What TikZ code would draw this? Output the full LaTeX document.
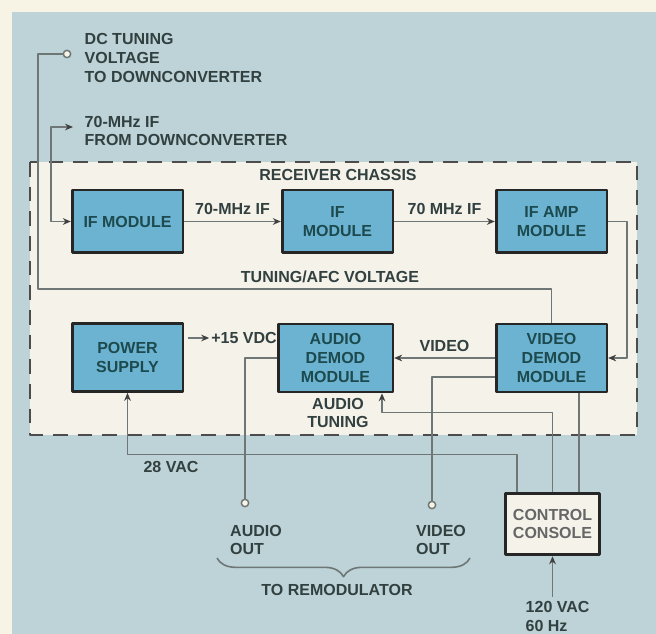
\documentclass[tikz,border=0pt]{standalone}
\usepackage{fontspec}
\setmainfont{Liberation Sans}
\usetikzlibrary{positioning,decorations.pathreplacing,arrows.meta}
\definecolor{cream}{RGB}{247,243,229}
\definecolor{panel}{RGB}{189,211,216}
\definecolor{chassisfill}{RGB}{244,242,233}
\definecolor{modfill}{RGB}{108,179,209}
\definecolor{wirecol}{RGB}{110,118,118}
\definecolor{ink}{RGB}{50,64,64}
\definecolor{modink}{RGB}{28,74,78}
\begin{document}
\begin{tikzpicture}[x=0.75pt,y=-0.75pt,>={Stealth[length=6pt,width=5pt,color=black!75]},line join=round,
	every node/.style={font=\fontsize{12}{14}\selectfont\bfseries,text=ink,align=center},
	module/.style={draw=black!85,line width=2pt,fill=modfill,text=modink,minimum width=83pt,minimum height=47pt,inner sep=2pt},
	wire/.style={draw=wirecol,line width=1.2pt},
	jack/.style={circle,draw=wirecol,line width=1.1pt,fill=cream,inner sep=0pt,minimum size=5.5pt}]
	\useasboundingbox (0,0) rectangle (656,634);
	\fill[cream] (0,0) rectangle (656,634);
	\fill[panel] (12,12) rectangle (656,634);
	\draw[draw=black!70,fill=chassisfill,line width=2.2pt,dash pattern=on 11pt off 7.5pt] (30,162) rectangle (637,435);
	\node (chassis) at (338,175) {RECEIVER CHASSIS};
	\node[module] (ifa) at (127.5,221.5) {IF MODULE};
	\node[module] (ifb) at (337.5,221.5) {IF\\MODULE};
	\node[module] (ifamp) at (551.5,221.5) {IF AMP\\MODULE};
	\node[module,minimum height=51pt] (power) at (127.5,357.5) {POWER\\SUPPLY};
	\node[module,minimum width=86pt,minimum height=51pt] (audio) at (335.5,358) {AUDIO\\DEMOD\\MODULE};
	\node[module,minimum height=51pt] (video) at (551.5,358) {VIDEO\\DEMOD\\MODULE};
	\node[draw=black!85,line width=2.4pt,fill=chassisfill,text=black!60,minimum width=71pt,minimum height=46pt] (console) at (552.5,524) {CONTROL\\CONSOLE};
	\node[jack] (dcjack) at (67,54) {};
	\node[align=left,anchor=west] (dclabel) at (80,58) {DC TUNING\\VOLTAGE\\TO DOWNCONVERTER};
	\coordinate (ifin) at (73,127);
	\node[align=left,anchor=west] (iflabel) at (80,131) {70-MHz IF\\FROM DOWNCONVERTER};
	\node (afc) at (330,277) {TUNING/AFC VOLTAGE};
	\node (tuning) at (338,413) {AUDIO\\TUNING};
	\node (vac28) at (171,467) {28 VAC};
	\node[jack] (aojack) at (245,503) {};
	\node[jack] (vojack) at (432,505) {};
	\node[align=left] (aolabel) at (256,540) {AUDIO\\OUT};
	\node[align=left] (volabel) at (441,540) {VIDEO\\OUT};
	\node (remod) at (337,590) {TO REMODULATOR};
	\node[align=left,anchor=north west] (mains) at (521,597) {120 VAC\\60 Hz};
	\draw[wire] (dcjack.west) -- (38,54) -- (38,289) -| (video.north);
	\draw[wire,<->] (ifin) -| (51,221.5) -- (ifa.west);
	\draw[wire,->] (ifa) -- node[above=1pt] {70-MHz IF} (ifb);
	\draw[wire,->] (ifb) -- node[above=1pt] {70 MHz IF} (ifamp);
	\draw[wire,->] (ifamp.east) -- (627,221.5) |- (video.east);
	\draw[wire,->] (video.west) -- node[above=1pt] {VIDEO} (audio.east);
	\draw[wire,->] ([shift={(4,-19.5)}]power.east) -- ++(21,0) node[right,inner sep=1pt] (vdc) {+15 VDC};
	\draw[wire] (audio.west) -| (aojack.north);
	\draw[wire] ([shift={(0,19)}]video.west) -| (vojack.north);
	\draw[wire,<-] ([shift={(46.5,0)}]audio.south) -- ++(0,19) -| (console.north);
	\draw[wire] ([shift={(27.5,0)}]video.south) -- ([shift={(27.5,0)}]video.south |- console.north);
	\draw[wire,<-] (power.south) -- ++(0,61.5) -| ([shift={(-35.5,0)}]console.north);
	\draw[wire,<-] (console.south) -- (console.south |- mains.north);
	\draw[wire,decorate,decoration={brace,mirror,amplitude=14pt}] (217,558) -- (470,558);
\end{tikzpicture}
\end{document}
